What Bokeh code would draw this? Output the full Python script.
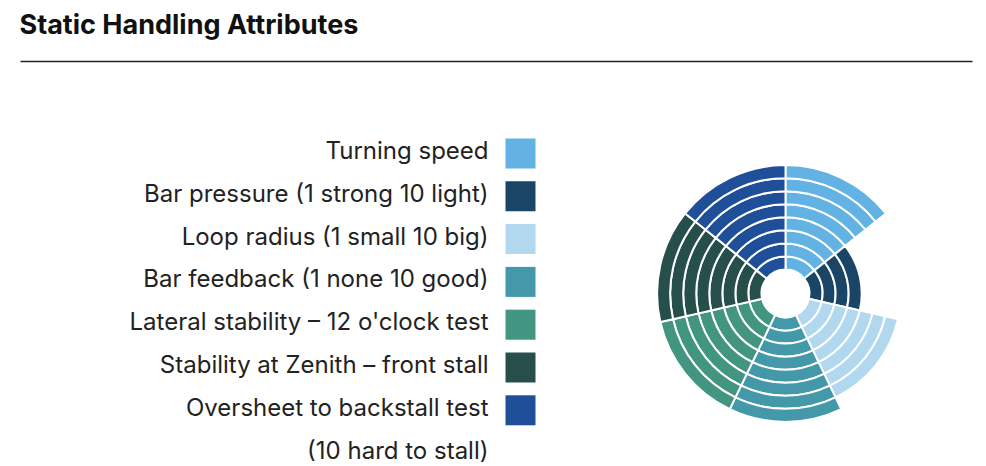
from bokeh.plotting import figure
from bokeh.models import ColumnDataSource, Range1d
from bokeh.core.properties import value
from bokeh.embed import file_html
from bokeh.resources import INLINE
import math

title_text = "Static Handling Attributes"
categories = [
    "Turning speed",
    "Bar pressure (1 strong 10 light)",
    "Loop radius (1 small 10 big)",
    "Bar feedback (1 none 10 good)",
    "Lateral stability \u2013 12 o'clock test",
    "Stability at Zenith \u2013 front stall",
    "Oversheet to backstall test\n(10 hard to stall)",
]
scores = [8, 4, 7, 8, 8, 8, 8]
colors = ["#62b3e3", "#1b4567", "#b1d8ef", "#4398a9", "#429681", "#264e4b", "#1f4f99"]

W, H = 986, 466


def sy(y):
    # screen y (from top) -> data y
    return H - y


p = figure(width=W, height=H, x_range=Range1d(0, W), y_range=Range1d(0, H),
           toolbar_location=None, output_backend="svg", min_border=0,
           x_axis_location=None, y_axis_location=None, outline_line_color=None,
           background_fill_color="white", border_fill_color="white")
p.xgrid.visible = False
p.ygrid.visible = False

# Title and rule
p.text(x=[19], y=[sy(24)], text=[title_text], text_font=value("Inter"),
       text_font_style="bold", text_font_size="27px", text_color="#111111",
       text_baseline="middle", text_align="left")
p.segment(x0=[20], y0=[sy(61)], x1=[972], y1=[sy(61)], line_color="#222222", line_width=1.5)

# Polar stacked chart
cx, cy = 785, sy(293)
r0, rw = 24, 13.05
n = len(categories)
step = 2 * math.pi / n
xs, ys, ir, orr, sa, ea, fc = [], [], [], [], [], [], []
for i, (v, c) in enumerate(zip(scores, colors)):
    a_start = math.pi / 2 - (i + 1) * step
    a_end = math.pi / 2 - i * step
    for k in range(v):
        xs.append(cx); ys.append(cy)
        ir.append(r0 + k * rw); orr.append(r0 + (k + 1) * rw)
        sa.append(a_start); ea.append(a_end); fc.append(c)
src = ColumnDataSource(dict(x=xs, y=ys, ir=ir, orr=orr, sa=sa, ea=ea, fc=fc))
p.annular_wedge(x="x", y="y", inner_radius="ir", outer_radius="orr",
                start_angle="sa", end_angle="ea", fill_color="fc",
                line_color="white", line_width=2, source=src)

# Legend (text right-aligned, square swatch to the right)
row0, row_step = 150, 42.8
tx, ty, tt = [], [], []
sx, syy, sc = [], [], []
row = 0
for lab, c in zip(categories, colors):
    sx.append(520); syy.append(sy(row0 + 3 + row * row_step)); sc.append(c)
    for line in lab.split("\n"):
        tx.append(488); ty.append(sy(row0 + row * row_step)); tt.append(line)
        row += 1
p.text(x=tx, y=ty, text=tt, text_font=value("Inter"), text_font_size="24px",
       text_color="#222222", text_align="right", text_baseline="middle")
p.rect(x=sx, y=syy, width=30, height=30, fill_color=sc, line_color=None)

open("out.html", "w").write(file_html(p, INLINE))
